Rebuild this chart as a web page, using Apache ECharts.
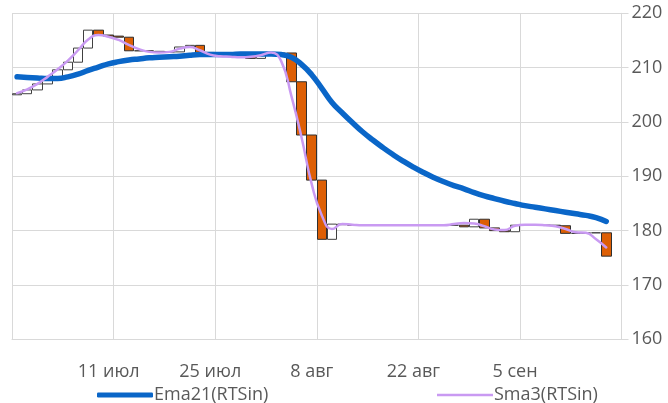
<!DOCTYPE html>
<html>
<head>
<meta charset="utf-8">
<script src="https://cdn.jsdelivr.net/npm/echarts@6/dist/echarts.min.js"></script>
<style>
html,body{margin:0;padding:0;background:#fff;}
#chart{width:668px;height:403px;}
</style>
</head>
<body>
<div id="chart"></div>
<script>
var categories = [
 "27 июн","28 июн","29 июн","30 июн","1 июл",
 "4 июл","5 июл","6 июл","7 июл","8 июл",
 "11 июл","12 июл","13 июл","14 июл","15 июл",
 "18 июл","19 июл","20 июл","21 июл","22 июл",
 "25 июл","26 июл","27 июл","28 июл","29 июл",
 "1 авг","2 авг","3 авг","4 авг","5 авг",
 "8 авг","9 авг","10 авг","11 авг","12 авг",
 "15 авг","16 авг","17 авг","18 авг","19 авг",
 "22 авг","23 авг","24 авг","25 авг","26 авг",
 "29 авг","30 авг","31 авг","1 сен","2 сен",
 "5 сен","6 сен","7 сен","8 сен","9 сен",
 "12 сен","13 сен","14 сен","15 сен","16 сен"
];
var opens = [
 205.0,205.2,205.9,207.0,208.3,209.6,211.0,213.6,216.9,216.0,
 215.8,215.6,213.1,213.1,213.0,212.9,212.9,213.8,214.1,212.8,
 212.3,212.3,212.2,212.3,211.7,212.4,212.6,212.7,207.4,197.6,
 189.3,178.4,181.2,181.1,181.0,181.0,181.0,181.0,181.0,181.0,
 181.0,181.0,181.0,181.0,181.0,180.7,182.1,180.5,180.0,179.8,
 181.0,181.0,181.0,181.0,180.9,179.5,179.5,179.6,179.6
];
var closes = [
 205.2,205.9,207.0,208.3,209.6,211.0,213.6,216.9,216.0,215.8,
 215.6,213.1,213.1,213.0,212.9,212.9,213.8,214.1,212.8,212.3,
 212.3,212.2,212.3,211.7,212.4,212.6,212.7,207.4,197.6,189.3,
 178.4,181.2,181.1,181.0,181.0,181.0,181.0,181.0,181.0,181.0,
 181.0,181.0,181.0,181.0,180.7,182.1,180.5,180.0,179.8,181.0,
 181.0,181.0,181.0,180.9,179.5,179.5,179.6,179.6,175.3
];
var ema21 = [
 208.3,208.2,208.1,208.0,208.0,208.3,208.8,209.5,210.1,210.7,
 211.1,211.4,211.6,211.8,211.9,212.0,212.1,212.3,212.4,212.4,
 212.4,212.4,212.5,212.5,212.5,212.5,212.4,211.9,210.6,208.7,
 206.2,203.6,201.7,199.9,198.2,196.7,195.3,194.0,192.8,191.7,
 190.7,189.8,189.0,188.3,187.7,187.0,186.4,185.9,185.4,185.0,
 184.6,184.3,184.0,183.7,183.4,183.1,182.8,182.4,181.7
];
var sma3 = [
 205.3,206.0,207.0,208.3,209.7,211.3,213.2,215.2,216.0,215.7,
 215.1,214.2,213.4,212.9,212.8,212.9,213.5,213.8,213.2,212.4,
 212.1,212.0,211.9,212.0,212.3,212.8,211.2,204.8,197.2,188.6,
 182.8,180.3,181.2,181.1,181.0,181.0,181.0,181.0,181.0,181.0,
 181.0,181.0,181.0,181.2,181.4,181.3,180.8,180.2,180.1,180.9,
 181.1,181.1,181.0,180.8,180.3,179.7,179.6,178.4,176.9
];
var yTicks = {min:160, max:220, step:10};
var labelIdx = [10,20,30,40,50];

var candles = opens.map(function(o,i){
  var c = closes[i];
  return [o, c, Math.min(o,c), Math.max(o,c)];
});

var font = "'Open Sans', sans-serif";
var grey = '#595959';
var gridCol = '#d9d9d9';
var blue = '#0a66c8';
var lilac = '#c99af2';

var chart = echarts.init(document.getElementById('chart'), null, {renderer:'canvas'});
chart.setOption({
  animation:false,
  backgroundColor:'#ffffff',
  grid:{left:12, right:46.5, top:13.3, bottom:63.7, containLabel:false},
  legend:[
    {data:[{name:'Ema21(RTSin)', icon:'roundRect'}], left:92, top:381, itemWidth:56, itemHeight:5, itemGap:0,
     itemStyle:{color:blue, borderWidth:0},
     textStyle:{color:grey, fontSize:18, fontFamily:font, padding:[0,0,0,-4]}},
    {data:[{name:'Sma3(RTSin)', icon:'rect'}], left:432, top:381, itemWidth:56, itemHeight:2.5, itemGap:0,
     itemStyle:{color:lilac, borderWidth:0},
     textStyle:{color:grey, fontSize:18, fontFamily:font, padding:[0,0,0,-4]}}
  ],
  xAxis:{
    type:'category', data:categories, boundaryGap:true,
    axisLine:{show:true, lineStyle:{color:gridCol}},
    axisTick:{show:false},
    splitLine:{show:true, interval:function(i){return i%10===0;}, lineStyle:{color:gridCol, width:1}},
    axisLabel:{
      interval:function(i){return labelIdx.indexOf(i)>=0;},
      color:grey, fontSize:18, fontFamily:font, margin:24, padding:[0,20,0,0]
    }
  },
  yAxis:{
    type:'value', position:'right', min:yTicks.min, max:yTicks.max, interval:yTicks.step,
    axisLine:{show:true, lineStyle:{color:gridCol}},
    axisTick:{show:true, length:7, lineStyle:{color:gridCol}},
    splitLine:{show:true, lineStyle:{color:gridCol}},
    axisLabel:{color:grey, fontSize:18, fontFamily:font, margin:10}
  },
  series:[
    {type:'candlestick', name:'RTSin', data:candles, barWidth:10,
     itemStyle:{color:'#ffffff', color0:'#dd5f05', borderColor:'#404040', borderColor0:'#303030', borderWidth:1}},
    {type:'line', name:'Ema21(RTSin)', data:ema21, smooth:true, symbol:'none',
     lineStyle:{color:blue, width:5.5, cap:'round'}, itemStyle:{color:blue}, z:3},
    {type:'line', name:'Sma3(RTSin)', data:sma3, smooth:true, symbol:'none',
     lineStyle:{color:lilac, width:2.5, cap:'round'}, itemStyle:{color:lilac}, z:4}
  ]
});
</script>
</body>
</html>
